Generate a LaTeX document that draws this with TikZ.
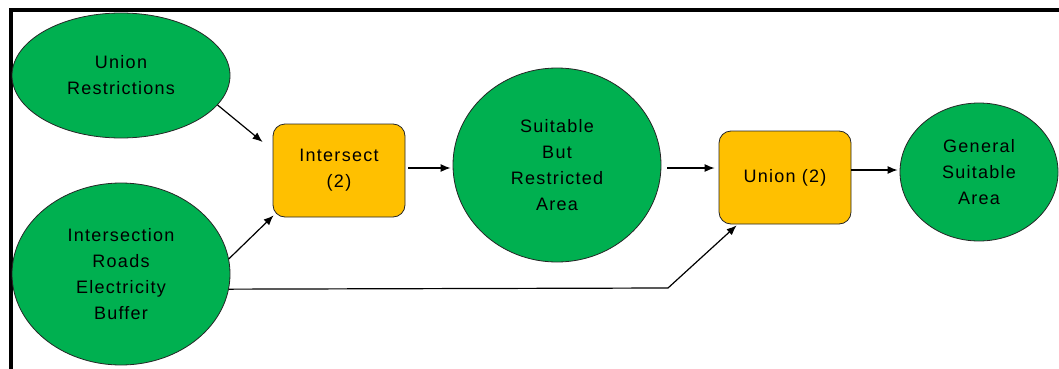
\documentclass[tikz,border=0pt]{standalone}
\usepackage{fontspec}
\setmainfont{Liberation Sans}[LetterSpace=7]
\usetikzlibrary{shapes.geometric,arrows.meta}
\definecolor{mgreen}{HTML}{00B050}
\definecolor{myellow}{HTML}{FFC000}
\tikzset{
  dataell/.style={ellipse, draw=black!85, line width=0.8pt, fill=mgreen, inner sep=0pt, align=center,
    font=\fontsize{18}{26}\selectfont},
  toolbox/.style={rectangle, rounded corners=12pt, draw=black!85, line width=0.8pt, fill=myellow,
    inner sep=0pt, align=center, minimum width=132pt, minimum height=93pt, font=\fontsize{18}{26}\selectfont},
  flow/.style={line width=1.2pt, -{Latex[length=10pt,width=8pt]}},
}
\begin{document}
\begin{tikzpicture}[x=1pt,y=-1pt]
\useasboundingbox (0,0) rectangle (1059,369);
\draw[line width=4pt] (11,369) -- (11,10) -- (1059,10);
\node[dataell, minimum width=218pt, minimum height=125pt] (ur) at (121,75.5) {Union\\Restrictions};
\node[dataell, minimum width=218pt, minimum height=182pt] (ir) at (121,274) {Intersection\\Roads\\Electricity\\Buffer};
\node[toolbox] (is) at (339,170.5) {Intersect\\(2)};
\node[dataell, minimum width=208pt, minimum height=194pt] (sb) at (557,165) {Suitable\\But\\Restricted\\Area};
\node[toolbox] (un) at (785,177.5) {Union (2)};
\node[dataell, minimum width=158pt, minimum height=138pt] (gs) at (979,172) {General\\Suitable\\Area};
\coordinate (bend) at (668,288);
\draw[flow] (ur.-17) -- ([shift={(-10,-28.5)}]is.west);
\draw[flow] (ir.8.5) -- ([shift={(1,-2)}]is.south west);
\draw[flow] ([shift={(3,-2.5)}]is.east) -- ([shift={(-2,3)}]sb.west);
\draw[flow] ([shift={(6,3)}]sb.east) -- ([shift={(-4,-9.5)}]un.west);
\draw[flow] ([shift={(0,-7.5)}]un.east) -- ([shift={(-2,-2)}]gs.west);
\draw[flow] (ir.-8) -- (bend) -- ([shift={(18,1)}]un.south west);
\end{tikzpicture}
\end{document}
